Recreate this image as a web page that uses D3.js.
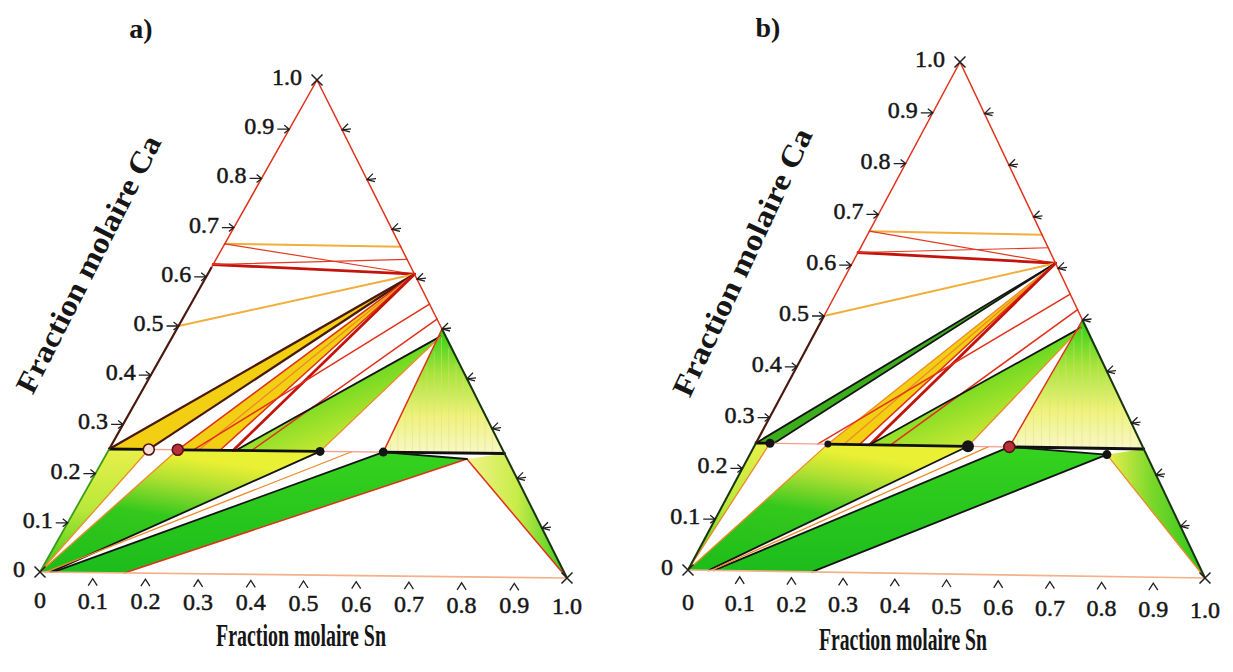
<!DOCTYPE html>
<html>
<head>
<meta charset="utf-8">
<script src="https://cdnjs.cloudflare.com/ajax/libs/d3/7.8.5/d3.min.js"></script>
<style>
  body { margin: 0; background: #fff; }
  svg text { font-family: "Liberation Serif", "DejaVu Serif", serif; fill: #161616; }
</style>
</head>
<body>
<svg id="chart" width="1233" height="672"></svg>
<script>
// every composition is written as [x_Sn, x_Ca]
let tick_values = [0, 0.1, 0.2, 0.3, 0.4, 0.5, 0.6, 0.7, 0.8, 0.9, 1.0];
let tick_labels = ["0", "0.1", "0.2", "0.3", "0.4", "0.5", "0.6", "0.7", "0.8", "0.9", "1.0"];
let inner_ticks = tick_values.slice(1, 10);

// phase fields of panel a
let regions_a = [
  ["strip", [[0, 0], [0, 0.25], [0.075, 0.25]]],
  ["fan", [[0, 0], [0.13, 0.25], [0.40, 0.25], [0.02, 0]]],
  ["band", [[0.025, 0], [0.52, 0.25], [0.685, 0.238], [0.16, 0]]],
  ["mid", [[0.24, 0.25], [0.40, 0.25], [0.505, 0.485]]],
  ["upper", [[0.5, 0.5], [0.52, 0.25], [0.75, 0.25]]],
  ["lower", [[0.685, 0.238], [0.75, 0.25], [1, 0]]],
  ["yellow", [[0, 0.25], [0.075, 0.25], [0.39, 0.61]]],
  ["yellow", [[0.13, 0.25], [0.21, 0.25], [0.39, 0.61]]]
];
// phase fields of panel b
let regions_b = [
  ["strip", [[0, 0], [0, 0.25], [0.027, 0.25]]],
  ["fan", [[0, 0], [0.139, 0.25], [0.41, 0.25], [0.04, 0]]],
  ["band", [[0.05, 0], [0.49, 0.25], [0.685, 0.238], [0.24, 0]]],
  ["mid", [[0.22, 0.25], [0.41, 0.25], [0.505, 0.485]]],
  ["upper", [[0.5, 0.5], [0.49, 0.25], [0.75, 0.25]]],
  ["lowerb", [[0.685, 0.238], [0.75, 0.25], [1, 0]]],
  ["greenfan", [[0, 0.25], [0.035, 0.25], [0.39, 0.61]]],
  ["yellow", [[0.139, 0.25], [0.20, 0.25], [0.39, 0.61]]]
];

// tie lines in the Ca rich part (same in both panels)
let ties_top = [
  [[0, 0.667], [0.335, 0.665], "pale"],
  [[0, 0.667], [0.39, 0.61], "thin"],
  [[0, 0.625], [0.39, 0.61], "thick"],
  [[0, 0.625], [0.36, 0.64], "thin"],
  [[0, 0.5], [0.39, 0.61], "pale"]
];

let ties_a = [
  [[0, 0.25], [0.39, 0.61], "dark"],
  [[0.075, 0.25], [0.39, 0.61], "dark"],
  [[0.13, 0.25], [0.39, 0.61], "red"],
  [[0.17, 0.25], [0.39, 0.61], "orange"],
  [[0.21, 0.25], [0.39, 0.61], "red"],
  [[0.235, 0.25], [0.39, 0.61], "thick"],
  [[0.16, 0.25], [0.45, 0.55], "red"],
  [[0.27, 0.25], [0.48, 0.52], "red"],
  [[0.24, 0.25], [0.505, 0.485], "black"],
  [[0.40, 0.25], [0.505, 0.485], "orange"],
  [[0.52, 0.25], [0.5, 0.5], "red"],
  [[0.02, 0], [0.40, 0.25], "black"],
  [[0.025, 0], [0.52, 0.25], "black"],
  [[0.16, 0], [0.685, 0.238], "red"],
  [[0.685, 0.238], [1, 0], "red"],
  [[0, 0], [0.075, 0.25], "orange"],
  [[0, 0], [0.13, 0.25], "orange"],
  [[0.01, 0], [0.46, 0.25], "orange"],
  [[0, 0.25], [0.75, 0.25], "pink"],
  [[0, 0.25], [0.075, 0.25], "bold"],
  [[0.13, 0.25], [0.40, 0.25], "bold"],
  [[0.52, 0.25], [0.75, 0.25], "bold"],
  [[0.52, 0.25], [0.685, 0.238], "black"]
];

let ties_b = [
  [[0, 0.25], [0.39, 0.61], "black"],
  [[0.035, 0.25], [0.39, 0.61], "black"],
  [[0.139, 0.25], [0.39, 0.61], "orange"],
  [[0.17, 0.25], [0.39, 0.61], "orange"],
  [[0.20, 0.25], [0.39, 0.61], "red"],
  [[0.22, 0.25], [0.39, 0.61], "thick"],
  [[0.12, 0.25], [0.45, 0.55], "red"],
  [[0.26, 0.25], [0.48, 0.52], "red"],
  [[0.22, 0.25], [0.505, 0.485], "black"],
  [[0.41, 0.25], [0.505, 0.485], "orange"],
  [[0.49, 0.25], [0.5, 0.5], "red"],
  [[0.04, 0], [0.41, 0.25], "black"],
  [[0.05, 0], [0.49, 0.25], "black"],
  [[0.24, 0], [0.685, 0.238], "black"],
  [[0.685, 0.238], [1, 0], "orange"],
  [[0, 0], [0.027, 0.25], "orange"],
  [[0, 0], [0.139, 0.25], "orange"],
  [[0.045, 0], [0.45, 0.25], "orange"],
  [[0, 0.25], [0.75, 0.25], "pink"],
  [[0, 0.25], [0.027, 0.25], "bold"],
  [[0.139, 0.25], [0.41, 0.25], "bold"],
  [[0.49, 0.25], [0.75, 0.25], "bold"],
  [[0.49, 0.25], [0.685, 0.238], "black"]
];

// outline of each triangle, piece by piece
let edges_a = [
  [[0, 1], [0, 0.62], "red"],
  [[0, 0.62], [0, 0.25], "dark"],
  [[0, 0.25], [0, 0], "green"],
  [[0, 1], [0.5, 0.5], "red"],
  [[0.5, 0.5], [1, 0], "edge"],
  [[0, 0], [1, 0], "base"]
];
let edges_b = [
  [[0, 1], [0, 0.5], "red"],
  [[0, 0.5], [0, 0.25], "dark"],
  [[0, 0.25], [0, 0], "edge"],
  [[0, 1], [0.5, 0.5], "red"],
  [[0.5, 0.5], [1, 0], "edge"],
  [[0, 0], [1, 0], "base"]
];

// marked compounds on the Ca = 0.25 line
let dots_a = [[0.075, 0.25, "open"], [0.13, 0.25, "red"], [0.40, 0.25, "black"], [0.52, 0.25, "black"]];
let dots_b = [[0.027, 0.25, "black"], [0.139, 0.25, "small"], [0.41, 0.25, "big"], [0.49, 0.25, "red"], [0.685, 0.238, "black"]];

let line_style = {
  pale: ["#f2ae3c", 2], thin: ["#e23a22", 1.2], thick: ["#c3140c", 2.8], dark: ["#4a180c", 2.2],
  black: ["#141414", 1.8], red: ["#e2301a", 1.5], orange: ["#ef8a2a", 1.3], pink: ["#f2a090", 1.3],
  bold: ["#101010", 2.8], green: ["#3a9c1c", 1.8], edge: ["#183410", 2], base: ["#f4b08a", 1.7]
};
let fill_of = {
  strip: "url(#g_strip)", fan: "url(#g_fan)", band: "url(#g_band)", mid: "url(#g_mid)",
  upper: "url(#g_upper)", lower: "url(#g_lower)", lowerb: "url(#g_lowerb)",
  yellow: "#f2cf12", greenfan: "#3cae1c"
};

let svg = d3.select("#chart");
let defs = svg.append("defs");

// linear gradient helper (bounding box units)
function gradient(id, x1, y1, x2, y2, stops) {
  let g = defs.append("linearGradient").attr("id", id)
    .attr("x1", x1).attr("y1", y1).attr("x2", x2).attr("y2", y2);
  stops.forEach(s => g.append("stop").attr("offset", s[0]).attr("stop-color", s[1]));
}
gradient("g_strip", 0, 1, 0, 0, [[0, "#3cc812"], [0.5, "#b8e83a"], [1, "#e8f04a"]]);
gradient("g_fan", 0, 1, 0.35, 0, [[0, "#1cbc1a"], [0.55, "#34c81c"], [0.82, "#b0e032"], [1, "#eaf034"]]);
gradient("g_band", 0, 1, 0, 0, [[0, "#1cbc1c"], [1, "#36d21e"]]);
gradient("g_mid", 0, 0, 0.7, 1, [[0, "#26c81a"], [0.5, "#6cd820"], [1, "#e6ee3a"]]);
gradient("g_upper", 0, 0, 0, 1, [[0, "#2cd012"], [0.35, "#a6e43a"], [0.7, "#eef27a"], [1, "#f8f8c8"]]);
gradient("g_lower", 0, 0, 1, 0, [[0, "#f2f48a"], [0.5, "#c8ec48"], [1, "#38c81c"]]);
gradient("g_lowerb", 0, 0, 1, 0, [[0, "#eef050"], [0.45, "#7cd82a"], [1, "#28c41a"]]);

// affine map from composition to pixels, one pair of scales per direction
function make_proj(O, R, T) {
  let sn_x = d3.scaleLinear().domain([0, 1]).range([0, R[0] - O[0]]);
  let sn_y = d3.scaleLinear().domain([0, 1]).range([0, R[1] - O[1]]);
  let ca_x = d3.scaleLinear().domain([0, 1]).range([0, T[0] - O[0]]);
  let ca_y = d3.scaleLinear().domain([0, 1]).range([0, T[1] - O[1]]);
  return p => [O[0] + sn_x(p[0]) + ca_x(p[1]), O[1] + sn_y(p[0]) + ca_y(p[1])];
}

function draw_panel(cfg) {
  let proj = cfg.proj;
  let g = svg.append("g");
  let line = d3.line().x(d => proj(d)[0]).y(d => proj(d)[1]);

  g.selectAll(".region").data(cfg.regions).enter().append("path")
    .attr("class", "region")
    .attr("d", d => line(d[1]) + "Z")
    .attr("fill", d => fill_of[d[0]]);

  // faint vertical hatching in the upper right three phase field
  let up = cfg.regions.find(d => d[0] == "upper")[1].map(proj);
  let hatch = d3.range(0.06, 1, 0.06);
  g.selectAll(".hatch").data(hatch).enter().append("line")
    .attr("x1", t => up[1][0] + t * (up[2][0] - up[1][0]))
    .attr("y1", t => up[1][1] + t * (up[2][1] - up[1][1]))
    .attr("x2", t => up[1][0] + t * (up[2][0] - up[1][0]))
    .attr("y2", t => {
      let x = up[1][0] + t * (up[2][0] - up[1][0]);
      let a = x < up[0][0] ? [up[1], up[0]] : [up[0], up[2]];
      let k = (x - a[0][0]) / (a[1][0] - a[0][0]);
      return a[0][1] + k * (a[1][1] - a[0][1]) + 6;
    })
    .attr("stroke", "#e8d890").attr("stroke-width", 0.8).attr("opacity", 0.6);

  g.selectAll(".tie").data(ties_top.concat(cfg.ties)).enter().append("path")
    .attr("class", "tie")
    .attr("d", d => line([d[0], d[1]]))
    .attr("fill", "none")
    .attr("stroke", d => line_style[d[2]][0])
    .attr("stroke-width", d => line_style[d[2]][1])
    .attr("stroke-linecap", "round");

  g.selectAll(".edge").data(cfg.edges).enter().append("path")
    .attr("class", "edge")
    .attr("d", d => line([d[0], d[1]]))
    .attr("stroke", d => line_style[d[2]][0])
    .attr("stroke-width", d => line_style[d[2]][1]);

  g.selectAll(".dot").data(cfg.dots).enter().append("circle")
    .attr("class", "dot")
    .attr("cx", d => proj(d)[0]).attr("cy", d => proj(d)[1])
    .attr("r", d => d[2] == "big" ? 6 : d[2] == "small" ? 3.5 : d[2] == "black" ? 4.5 : 5.5)
    .attr("fill", d => d[2] == "open" ? "#f4e0d8" : d[2] == "red" ? "#b8303a" : "#141414")
    .attr("stroke", d => d[2] == "open" || d[2] == "red" ? "#5a1010" : "none")
    .attr("stroke-width", 1.6);

  // tick marks: arrows on the left edge, chevrons on the right edge and under the base
  let tk = g.append("g").attr("stroke", "#202020").attr("stroke-width", 1.3).attr("fill", "none");
  inner_ticks.forEach(v => {
    let p = proj([0, v]);
    tk.append("path").attr("d", `M${p[0] - 12},${p[1]}H${p[0]}M${p[0] - 5},${p[1] - 4}L${p[0]},${p[1]}L${p[0] - 5},${p[1] + 4}`);
    let q = proj([1 - v, v]);
    tk.append("path").attr("d", `M${q[0] + 6},${q[1] - 6}L${q[0]},${q[1]}L${q[0] + 8},${q[1] + 2}M${q[0]},${q[1]}L${q[0] + 9},${q[1] - 1}`);
    let b = proj([v, 0]);
    tk.append("path").attr("d", `M${b[0] - 4.5},${b[1] + 13}L${b[0]},${b[1] + 6}L${b[0] + 4.5},${b[1] + 13}`);
  });
  [[0, 0], [1, 0], [0, 1]].forEach(v => {
    let p = proj(v);
    tk.append("path").attr("stroke-width", 1.5)
      .attr("d", `M${p[0] - 5.5},${p[1] - 5.5}L${p[0] + 5.5},${p[1] + 5.5}M${p[0] + 5.5},${p[1] - 5.5}L${p[0] - 5.5},${p[1] + 5.5}`);
  });

  // tick labels
  g.selectAll(".lab-sn").data(tick_values).enter().append("text")
    .attr("x", (d, i) => proj([d, 0])[0])
    .attr("y", (d, i) => proj([d, 0])[1] + cfg.base_dy)
    .attr("text-anchor", "middle")
    .attr("font-size", 24).attr("stroke", "#161616").attr("stroke-width", 0.5)
    .text((d, i) => tick_labels[i]);
  g.selectAll(".lab-ca").data(tick_values).enter().append("text")
    .attr("x", d => proj([0, d])[0] - 15)
    .attr("y", d => proj([0, d])[1] + 5)
    .attr("text-anchor", "end")
    .attr("font-size", 24).attr("stroke", "#161616").attr("stroke-width", 0.5)
    .text((d, i) => tick_labels[i]);

  // titles
  svg.append("text").attr("x", cfg.tag[0]).attr("y", cfg.tag[1])
    .attr("font-size", 28).attr("font-weight", "bold").attr("text-anchor", "middle").text(cfg.name);
  svg.append("text").attr("x", cfg.xt[0]).attr("y", cfg.xt[1])
    .attr("font-size", 31).attr("font-weight", "bold").attr("text-anchor", "middle")
    .attr("textLength", cfg.xt[2]).attr("lengthAdjust", "spacingAndGlyphs")
    .text("Fraction molaire Sn");
  svg.append("text")
    .attr("transform", `translate(${cfg.yt[0]},${cfg.yt[1]}) rotate(${cfg.yt[3]})`)
    .attr("font-size", 30).attr("font-weight", "bold").attr("text-anchor", "middle").attr("dy", "0.35em")
    .attr("textLength", cfg.yt[2]).attr("lengthAdjust", "spacingAndGlyphs")
    .text("Fraction molaire Ca");
}

draw_panel({
  name: "a)", tag: [141, 38],
  proj: make_proj([40, 572], [567, 578], [317, 80]),
  regions: regions_a, ties: ties_a, edges: edges_a, dots: dots_a,
  base_dy: 36,
  xt: [301, 646, 170], yt: [88, 264, 285, -63]
});
draw_panel({
  name: "b)", tag: [768, 37],
  proj: make_proj([688, 570], [1205, 578], [960, 62]),
  regions: regions_b, ties: ties_b, edges: edges_b, dots: dots_b,
  base_dy: 40,
  xt: [903, 650, 168], yt: [742, 262, 292, -65]
});
</script>
</body>
</html>
